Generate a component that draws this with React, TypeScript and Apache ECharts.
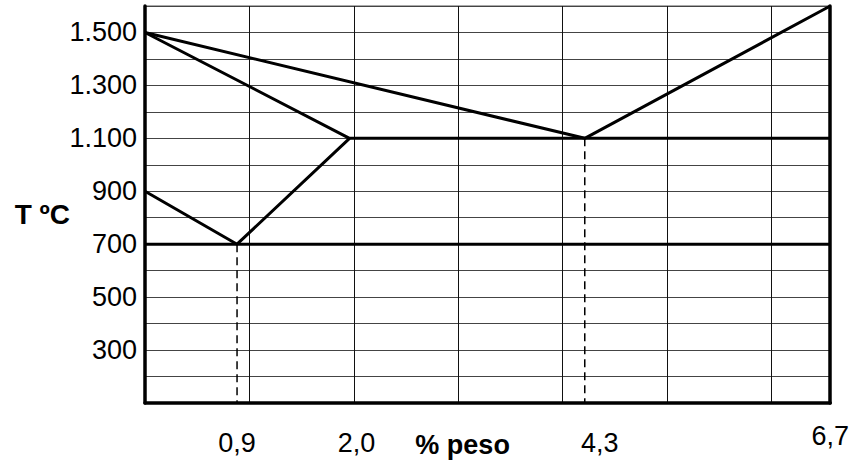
import React, { useEffect, useRef } from "react";
import * as echarts from "echarts";

// Fe–C diagram (schematic)
const liquidus: [number, number][] = [[0, 1500], [4.3, 1100], [6.7, 1600]];
const solidus: [number, number][] = [[0, 1500], [2.0, 1100], [6.7, 1100]];
const austeniteBoundary: [number, number][] = [[0, 900], [0.9, 700], [2.0, 1100]];
const eutectoidLine: [number, number][] = [[0, 700], [6.7, 700]];
const eutectoidDrop: [number, number][] = [[0.9, 700], [0.9, 100]];
const eutecticDrop: [number, number][] = [[4.3, 1100], [4.3, 100]];

const xTickLabels = [0.9, 2.0, 4.3, 6.7];
const yTickLabels = [300, 500, 700, 900, 1100, 1300, 1500];
const xMin = 0;
const xMax = 6.7;
const xGridStep = 1.021;
const yMin = 100;
const yMax = 1600;
const yStep = 100;

const FONT = "'Liberation Sans', Arial, Helvetica, sans-serif";

// label style keys (visual nudges as in the reference layout)
const xLabelStyleKey: Record<string, string> = { "2,0": "r7", "4,3": "r15", "6,7": "up" };

const fmtX = (v: number) => v.toFixed(1).replace(".", ",");
const fmtY = (v: number) =>
  v >= 1000 ? `${Math.floor(v / 1000)}.${String(v % 1000).padStart(3, "0")}` : String(v);

export default function App() {
  const ref = useRef<HTMLDivElement>(null);
  useEffect(() => {
    if (!ref.current) return;
    const chart = echarts.init(ref.current, undefined, { renderer: "svg" });
    const thick = { color: "#000", width: 3 };
    const mk = (data: [number, number][], dashed = false) => ({
      type: "line",
      data,
      symbol: "none",
      silent: true,
      lineStyle: dashed ? { color: "#000", width: 1.5, type: [8, 5] } : thick,
      z: dashed ? 3 : 4,
    });
    const base = { fontFamily: FONT, fontSize: 27, color: "#000" };
    const nameBold = { fontFamily: FONT, fontSize: 28, fontWeight: "bold", color: "#000" };
    chart.setOption({
      animation: false,
      backgroundColor: "#fff",
      textStyle: { fontFamily: FONT, color: "#000" },
      grid: {
        left: 145,
        right: 18,
        top: 6,
        bottom: 59,
        show: true,
        borderColor: "#555",
        borderWidth: 1,
        backgroundColor: "transparent",
      },
      xAxis: {
        type: "value",
        min: xMin,
        max: xMax,
        interval: xGridStep,
        name: "% peso",
        nameLocation: "middle",
        nameGap: 28,
        nameMoveOverlap: false,
        nameTextStyle: {
          fontFamily: FONT,
          fontSize: 27,
          fontWeight: "bold",
          color: "#000",
          padding: [0, 50, 0, 0],
        },
        axisLine: { show: true, onZero: false, lineStyle: { color: "#000", width: 3.5 } },
        axisTick: { show: false },
        splitLine: { show: true, lineStyle: { color: "#111", width: 1 } },
        axisLabel: {
          customValues: xTickLabels,
          formatter: (v: number) => {
            const s = fmtX(v);
            const k = xLabelStyleKey[s];
            return k ? `{${k}|${s}}` : `{n|${s}}`;
          },
          margin: 26,
          ...base,
          rich: {
            n: { ...base },
            r7: { ...base, padding: [0, 0, 0, 14] },
            r15: { ...base, padding: [0, 0, 0, 30] },
            up: { ...base, lineHeight: 13 },
          },
          showMinLabel: true,
          showMaxLabel: true,
        },
      },
      yAxis: [
        {
          type: "value",
          min: yMin,
          max: yMax,
          interval: yStep,
          name: "{t|T ºC}",
          nameLocation: "middle",
          nameRotate: 0,
          nameGap: 75,
          nameMoveOverlap: false,
          nameTextStyle: {
            ...nameBold,
            rich: { t: { ...nameBold, padding: [19, 0, 0, 0] } },
          },
          axisLine: { show: true, onZero: false, lineStyle: { color: "#000", width: 3.5 } },
          axisTick: { show: false },
          splitLine: { show: true, lineStyle: { color: "#444", width: 1 } },
          axisLabel: {
            formatter: (v: number) => (yTickLabels.includes(v) ? fmtY(v) : ""),
            margin: 8,
            ...base,
          },
        },
        {
          type: "value",
          position: "right",
          min: yMin,
          max: yMax,
          interval: yStep,
          axisLine: { show: true, onZero: false, lineStyle: { color: "#000", width: 3.5 } },
          axisTick: { show: false },
          axisLabel: { show: false },
          splitLine: { show: false },
        },
      ],
      series: [
        mk(eutectoidDrop, true),
        mk(eutecticDrop, true),
        mk(eutectoidLine),
        mk(austeniteBoundary),
        mk(solidus),
        mk(liquidus),
      ],
    });
    return () => chart.dispose();
  }, []);
  return (
    <div
      ref={ref}
      style={{ position: "absolute", left: 0, top: 0, width: 852, height: 463 }}
    />
  );
}
